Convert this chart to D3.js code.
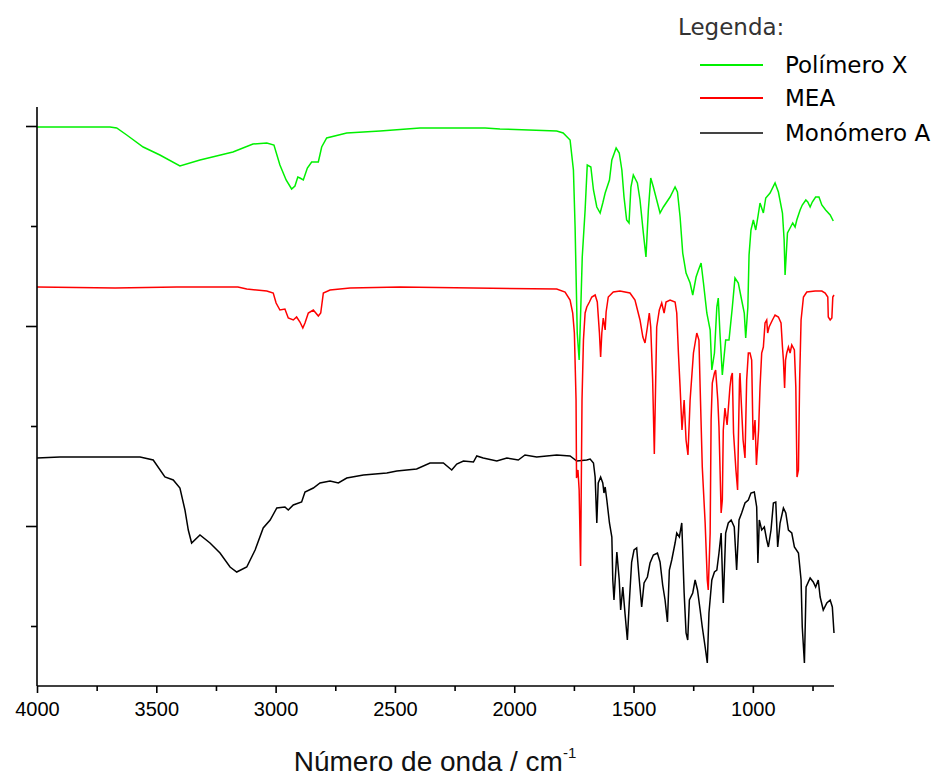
<!DOCTYPE html>
<html>
<head>
<meta charset="utf-8">
<script src="https://cdn.jsdelivr.net/npm/d3@7"></script>
<style>
  html, body { margin: 0; padding: 0; background: #fff; }
  svg { display: block; }
</style>
</head>
<body>
<svg id="chart" width="934" height="776"></svg>
<script>
// IR spectra: wavenumber (cm-1) and stacked transmittance (arbitrary units, offset per trace)
const polimeroWn = [4000,3694,3666,3624,3555,3485,3401,3317,3179,3095,3037,3007,2982,2956,2933,2919,2907,2898,2884,2867,2849,2821,2807,2786,2702,2562,2395,2122,2060,1822,1795,1766,1752,1745,1736,1728,1721,1715,1703,1694,1679,1668,1654,1640,1629,1619,1601,1591,1573,1560,1549,1540,1529,1519,1511,1501,1484,1473,1459,1448,1438,1428,1417,1403,1389,1375,1347,1326,1316,1305,1294,1280,1263,1252,1238,1228,1217,1207,1193,1179,1172,1161,1151,1145,1138,1128,1114,1100,1086,1075,1061,1047,1036,1030,1021,1016,1008,998,988,979,970,956,946,928,907,893,876,869,865,855,844,833,823,816,802,793,778,770,760,751,737,723,711,695,676,663];
const polimeroT = [5.99,5.99,5.98,5.91,5.79,5.71,5.60,5.66,5.74,5.82,5.83,5.81,5.61,5.46,5.37,5.40,5.49,5.48,5.46,5.58,5.64,5.64,5.79,5.88,5.93,5.95,5.98,5.98,5.97,5.95,5.93,5.86,5.56,4.99,3.93,3.66,4.19,4.69,5.16,5.61,5.59,5.36,5.19,5.13,5.23,5.33,5.46,5.66,5.78,5.73,5.56,5.29,5.06,5.03,5.39,5.51,5.43,5.26,4.93,4.69,5.16,5.48,5.39,5.26,5.13,5.19,5.29,5.39,5.34,5.09,4.73,4.53,4.43,4.31,4.49,4.56,4.63,4.43,4.13,3.96,3.56,3.73,4.19,4.28,3.93,3.51,3.86,3.86,4.19,4.48,4.43,4.26,4.13,3.88,4.19,4.71,4.96,5.06,4.96,5.09,5.23,5.13,5.28,5.33,5.43,5.34,5.13,4.86,4.51,4.93,4.98,5.03,4.99,5.06,5.16,5.21,5.26,5.24,5.19,5.24,5.29,5.29,5.21,5.16,5.11,5.05];

const meaWn = [4000,3673,3414,3158,3121,3037,3010,2998,2982,2961,2947,2926,2912,2898,2886,2877,2863,2842,2821,2811,2800,2772,2688,2479,1822,1787,1766,1755,1748,1741,1739,1733,1728,1722,1716,1710,1703,1696,1685,1675,1661,1652,1643,1638,1633,1627,1619,1615,1606,1585,1557,1515,1494,1473,1461,1452,1442,1434,1428,1420,1413,1403,1392,1382,1372,1364,1347,1326,1319,1312,1305,1297,1288,1280,1272,1263,1249,1235,1226,1221,1212,1200,1191,1187,1179,1175,1170,1161,1156,1147,1142,1133,1128,1124,1117,1108,1096,1091,1086,1081,1071,1064,1060,1056,1054,1049,1041,1033,1026,1019,1012,1005,999,991,985,976,970,963,956,949,942,938,932,918,907,893,882,876,872,867,863,858,851,844,837,826,820,815,809,804,798,788,774,739,711,697,686,684,676,669,665,660];
const meaT = [4.39,4.38,4.39,4.39,4.37,4.35,4.33,4.23,4.16,4.17,4.08,4.06,4.09,4.04,3.98,4.03,4.13,4.16,4.10,4.13,4.33,4.36,4.38,4.39,4.37,4.34,4.26,4.13,3.93,3.26,2.48,2.56,2.36,1.60,3.26,3.86,4.13,4.19,4.24,4.29,4.31,4.24,3.93,3.69,3.93,4.08,3.96,4.14,4.29,4.34,4.35,4.33,4.26,4.06,3.89,3.83,3.99,4.13,3.99,3.46,2.72,3.99,4.16,4.23,4.13,4.24,4.26,4.24,4.13,3.73,3.39,2.96,3.26,2.86,2.71,3.26,3.73,3.93,3.86,3.39,2.59,2.03,1.46,1.36,1.93,3.06,3.43,3.53,3.56,3.26,2.99,2.13,2.26,2.96,3.18,3.01,3.39,3.49,3.53,2.93,2.56,2.36,2.96,3.46,3.53,3.26,2.86,2.68,3.46,3.73,3.73,3.66,2.86,3.06,2.61,2.96,3.39,3.73,3.79,4.03,4.06,3.93,3.99,4.06,4.11,4.09,4.03,3.79,3.66,3.38,3.66,3.73,3.79,3.73,3.81,3.76,3.39,2.49,2.56,3.46,4.06,4.29,4.34,4.35,4.35,4.33,4.29,4.09,4.06,4.08,4.29,4.31];

const monomeroWn = [4000,3904,3568,3513,3464,3429,3401,3380,3366,3352,3317,3275,3233,3191,3163,3121,3086,3052,3023,2995,2961,2947,2926,2891,2877,2842,2814,2772,2737,2702,2632,2534,2492,2409,2353,2297,2262,2241,2213,2171,2157,2130,2073,2031,1983,1955,1906,1822,1766,1738,1696,1682,1668,1661,1654,1648,1638,1629,1624,1619,1612,1601,1591,1587,1582,1570,1560,1554,1545,1536,1526,1518,1508,1498,1487,1477,1466,1456,1442,1431,1417,1400,1389,1378,1368,1358,1350,1340,1326,1319,1308,1298,1288,1280,1273,1266,1252,1242,1232,1221,1212,1200,1191,1184,1172,1161,1151,1142,1133,1124,1114,1103,1091,1078,1068,1058,1047,1033,1019,1008,994,984,979,973,963,952,942,935,924,914,904,896,886,872,862,851,837,826,809,798,793,784,777,760,747,737,726,718,705,690,676,667,660];
const monomeroT = [2.68,2.69,2.69,2.66,2.49,2.46,2.38,2.16,1.96,1.83,1.91,1.83,1.73,1.59,1.54,1.59,1.76,1.98,2.06,2.18,2.19,2.16,2.21,2.24,2.34,2.38,2.43,2.45,2.43,2.48,2.51,2.53,2.55,2.57,2.63,2.63,2.56,2.62,2.65,2.64,2.70,2.68,2.65,2.68,2.66,2.71,2.69,2.71,2.70,2.65,2.66,2.67,2.63,2.49,2.03,2.43,2.49,2.43,2.33,2.39,2.26,2.03,1.89,1.46,1.26,1.74,1.46,1.16,1.39,1.13,0.86,1.23,1.64,1.76,1.78,1.49,1.19,1.43,1.49,1.63,1.71,1.73,1.64,1.41,1.26,1.04,1.56,1.66,1.83,1.93,1.89,2.03,1.33,0.93,0.86,1.26,1.33,1.46,1.36,1.16,0.99,0.79,0.63,1.13,1.46,1.54,1.56,1.73,1.93,1.23,1.93,2.03,2.06,1.99,1.56,2.06,2.13,2.23,2.26,2.33,2.34,2.19,1.63,2.06,1.96,1.99,1.86,1.79,1.96,2.23,2.24,1.79,2.03,2.18,2.13,1.96,1.93,1.79,1.73,1.46,0.99,0.63,1.39,1.48,1.44,1.39,1.46,1.29,1.16,1.23,1.26,1.19,0.93];

const seriesNames = ["Polímero X", "MEA", "Monómero A"];
const seriesColors = ["#00f000", "#ff0000", "#000000"];
const xMajorTicks = [4000, 3500, 3000, 2500, 2000, 1500, 1000];
const xMinorTicks = [3750, 3250, 2750, 2250, 1750, 1250, 750];
const yMajorTicks = [2, 4, 6];
const yMinorTicks = [1, 3, 5];
const xTitle = "Número de onda / cm";
const legendTitle = "Legenda:";

const series = [
  { name: seriesNames[0], color: seriesColors[0], wn: polimeroWn, t: polimeroT },
  { name: seriesNames[1], color: seriesColors[1], wn: meaWn, t: meaT },
  { name: seriesNames[2], color: seriesColors[2], wn: monomeroWn, t: monomeroT }
];

const svg = d3.select("#chart");
const plot = { left: 37, right: 834, top: 107, bottom: 686 };

const x = d3.scaleLinear().domain([4000, 660]).range([plot.left, plot.right]);
const y = d3.scaleLinear().domain([0.4, 6.19]).range([plot.bottom, plot.top]);

// spectra
const line = d3.line().x(d => x(d[0])).y(d => y(d[1]));
// black first so the green and red traces sit on top where they cross
[series[2], series[1], series[0]].forEach(s => {
  svg.append("path")
    .datum(s.wn.map((w, i) => [w, s.t[i]]))
    .attr("fill", "none")
    .attr("stroke", s.color)
    .attr("stroke-width", 1.5)
    .attr("d", line);
});

// x axis
const gx = svg.append("g").attr("transform", `translate(0,${plot.bottom})`);
gx.call(d3.axisBottom(x).tickValues(xMajorTicks).tickSize(7).tickPadding(9).tickFormat(d3.format("d")));
const gxMinor = svg.append("g").attr("transform", `translate(0,${plot.bottom})`);
gxMinor.call(d3.axisBottom(x).tickValues(xMinorTicks).tickSize(5).tickFormat(""));
gxMinor.select(".domain").remove();
gx.select(".domain").attr("d", `M${plot.left},0H${plot.right}`);
gx.selectAll("text")
  .attr("font-family", "'Liberation Sans', Arial, sans-serif")
  .attr("font-size", 20)
  .attr("fill", "#000");

// y axis (no labels)
const gy = svg.append("g").attr("transform", `translate(${plot.left},0)`);
gy.call(d3.axisLeft(y).tickValues(yMajorTicks).tickSize(11).tickFormat(""));
const gyMinor = svg.append("g").attr("transform", `translate(${plot.left},0)`);
gyMinor.call(d3.axisLeft(y).tickValues(yMinorTicks).tickSize(6).tickFormat(""));
gyMinor.select(".domain").remove();
gy.select(".domain").attr("d", `M0,${plot.top}V${plot.bottom}`);

svg.selectAll(".domain, .tick line").attr("stroke", "#000").attr("stroke-width", 1.6);

// x axis title with superscript
const title = svg.append("text")
  .attr("x", 435).attr("y", 771)
  .attr("text-anchor", "middle")
  .attr("font-family", "'Liberation Sans', Arial, sans-serif")
  .attr("font-size", 28)
  .attr("fill", "#111");
title.append("tspan").text(xTitle);
title.append("tspan").attr("dy", -13).attr("font-size", 15).text("-1");

// legend
const legend = svg.append("g");
legend.append("text")
  .attr("x", 678).attr("y", 35)
  .attr("font-family", "'DejaVu Sans', Verdana, sans-serif")
  .attr("font-size", 23)
  .attr("fill", "#333")
  .text(legendTitle);
const legendY = [65, 98, 133];
series.forEach((s, i) => {
  legend.append("line")
    .attr("x1", 700).attr("x2", 763)
    .attr("y1", legendY[i]).attr("y2", legendY[i])
    .attr("stroke", i === 2 ? "#444" : s.color)
    .attr("stroke-width", 2);
  legend.append("text")
    .attr("x", 785).attr("y", legendY[i] + 8)
    .attr("font-family", "'DejaVu Sans', Verdana, sans-serif")
    .attr("font-size", 23)
    .attr("fill", "#000")
    .text(s.name);
});
</script>
</body>
</html>
